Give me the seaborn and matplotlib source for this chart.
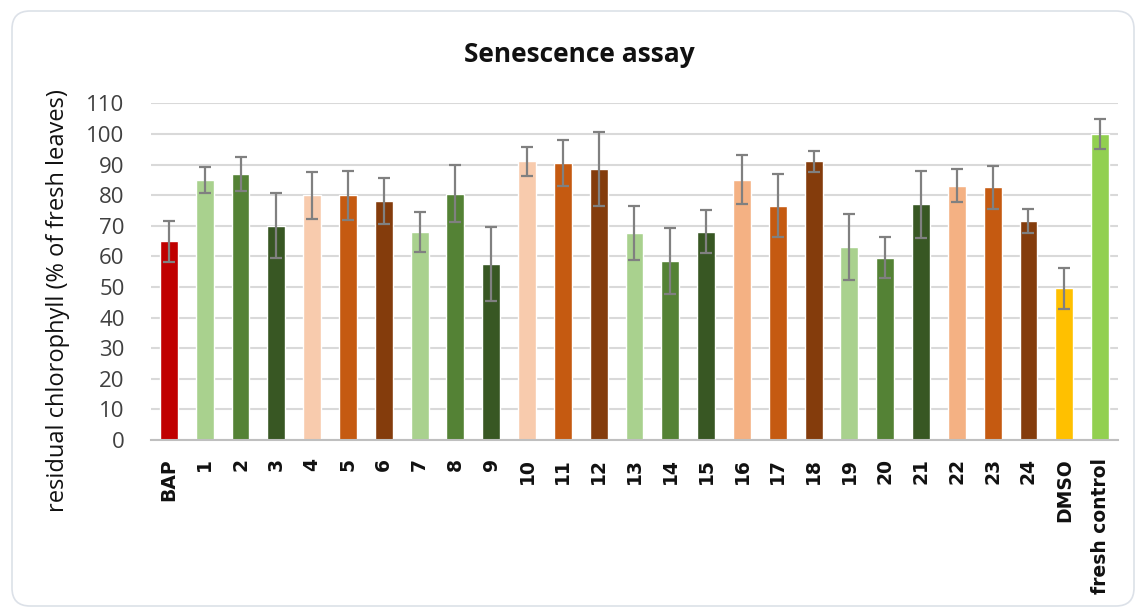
import matplotlib
matplotlib.use("Agg")
import matplotlib.pyplot as plt
from matplotlib.patches import FancyBboxPatch
from matplotlib.transforms import IdentityTransform
import seaborn as sns

# Treatments and measured residual chlorophyll (% of fresh leaves) with SD
labels = ["BAP", "1", "2", "3", "4", "5", "6", "7", "8", "9", "10", "11", "12",
          "13", "14", "15", "16", "17", "18", "19", "20", "21", "22", "23", "24",
          "DMSO", "fresh control"]
values = [65, 85, 87, 70, 80, 80, 78, 68, 80.5, 57.5, 91, 90.5, 88.5,
          67.5, 58.5, 68, 85, 76.5, 91, 63, 59.5, 77, 83, 82.5, 71.5,
          49.5, 100]
errors = [6.7, 4.2, 5.5, 10.7, 7.7, 8.0, 7.5, 6.5, 9.3, 12.0, 4.8, 7.5, 12.0,
          8.8, 10.9, 7.0, 8.0, 10.3, 3.5, 10.7, 6.7, 10.9, 5.4, 7.0, 4.0,
          6.7, 5.0]
bar_colors = ["#C00000",
              "#A9D18E", "#548235", "#385723", "#F8CBAD", "#C55A11", "#843C0C",
              "#A9D18E", "#548235", "#385723", "#F8CBAD", "#C55A11", "#843C0C",
              "#A9D18E", "#548235", "#385723", "#F4B183", "#C55A11", "#843C0C",
              "#A9D18E", "#548235", "#385723", "#F4B183", "#C55A11", "#843C0C",
              "#FFC000", "#92D050"]
y_ticks = list(range(0, 111, 10))

sns.set_style("white")
plt.rcParams["font.family"] = ["Open Sans", "DejaVu Sans"]

W, H = 1136, 609
fig = plt.figure(figsize=(W / 100, H / 100), dpi=100)

# rounded card border
card = FancyBboxPatch((12, 3), 1122, 595,
                      boxstyle="round,pad=0,rounding_size=18",
                      transform=IdentityTransform(), facecolor="none",
                      edgecolor="#DCE1E8", linewidth=1.2, zorder=0)
fig.patches.append(card)

ax_l, ax_r = 151, 1118
ax_top, ax_bot = 103.3, 440
ax = fig.add_axes([ax_l / W, 1 - ax_bot / H, (ax_r - ax_l) / W, (ax_bot - ax_top) / H])
ax.set_facecolor("none")

sns.barplot(x=labels, y=values, hue=labels, palette=bar_colors, legend=False,
            width=0.5, saturation=1, errorbar=None, ax=ax, zorder=2)

positions = list(range(len(labels)))
ax.errorbar(positions, values, yerr=errors, fmt="none", ecolor="#808080",
            elinewidth=1.6, capsize=4.5, capthick=1.6, zorder=3)

ax.set_xlim(-0.5, len(labels) - 0.5)
ax.set_ylim(0, 110)
ax.set_yticks(y_ticks)
ax.yaxis.grid(True, color="#D9D9D9", linewidth=1.5)
ax.set_axisbelow(True)

for side in ["left", "right", "top"]:
    ax.spines[side].set_visible(False)
ax.spines["bottom"].set_color("#BFBFBF")
ax.spines["bottom"].set_linewidth(1.5)

ax.tick_params(axis="y", length=0, pad=19, labelsize=16, labelcolor="#404040")
ax.set_xticks(positions)
ax.set_xticklabels(labels, rotation=90, fontweight="bold", fontsize=13.5,
                   family=["DejaVu Sans"], color="#111111")
ax.set_xticks([p - 0.5 for p in positions] + [len(labels) - 0.5], minor=True)
ax.tick_params(axis="x", which="major", length=0, pad=13)
ax.tick_params(axis="x", which="minor", length=5, width=1.5, color="#BFBFBF")

ax.set_xlabel("")
ax.set_ylabel("residual chlorophyll (% of fresh leaves)", fontsize=17,
              color="#111111")
ax.yaxis.label.set_va("center")
ax.yaxis.set_label_coords((58 - ax_l) / (ax_r - ax_l), (ax_bot - 301) / (ax_bot - ax_top))

fig.text(579 / W, 1 - 54 / H, "Senescence assay", ha="center", va="center",
         fontsize=19, fontweight="bold", color="#111111")

fig.savefig("out.png", dpi=100)
